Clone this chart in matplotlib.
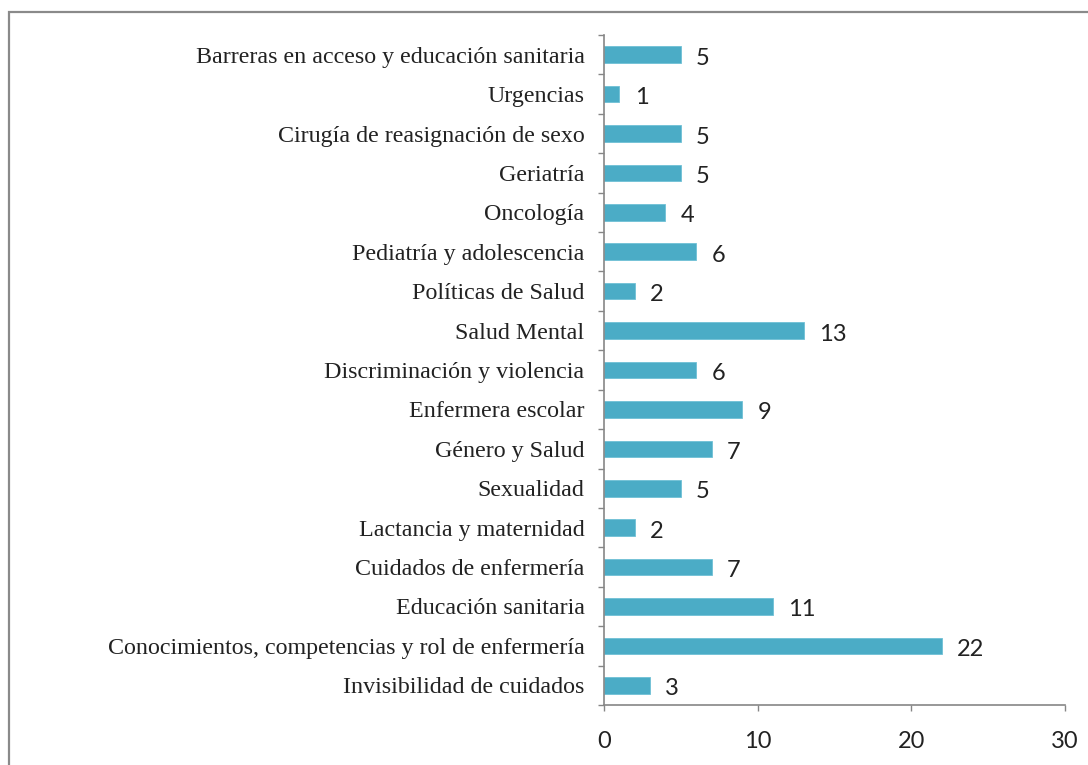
import matplotlib
matplotlib.use("Agg")
import matplotlib.pyplot as plt
from matplotlib.patches import Rectangle

categories = [
    "Barreras en acceso y educación sanitaria",
    "Urgencias",
    "Cirugía de reasignación de sexo",
    "Geriatría",
    "Oncología",
    "Pediatría y adolescencia",
    "Políticas de Salud",
    "Salud Mental",
    "Discriminación y violencia",
    "Enfermera escolar",
    "Género y Salud",
    "Sexualidad",
    "Lactancia y maternidad",
    "Cuidados de enfermería",
    "Educación sanitaria",
    "Conocimientos, competencias y rol de enfermería",
    "Invisibilidad de cuidados",
]
values = [5, 1, 5, 5, 4, 6, 2, 13, 6, 9, 7, 5, 2, 7, 11, 22, 3]
xticks = [0, 10, 20, 30]

W, H = 1088, 765
fig = plt.figure(figsize=(W / 100, H / 100), dpi=100)
fig.patch.set_facecolor("white")

# outer frame (right and bottom edges lie outside the image)
fig.patches.append(Rectangle((8.5 / W, -0.1), 1.2, 1.1 - 12.5 / H,
                             transform=fig.transFigure, fill=False,
                             edgecolor="#8a8a8a", linewidth=1.6, zorder=0))

ax = fig.add_axes([604 / W, 1 - 705 / H, (1065 - 604) / W, (705 - 35) / H])
n = len(categories)
ypos = list(range(n))
ax.barh(ypos, values, height=0.42, color="#4BACC6", edgecolor="#6fc0d6",
        linewidth=0.6, zorder=2)
ax.set_ylim(n - 0.5, -0.5)
ax.set_xlim(0, 30)

ax.set_xticks(xticks)
ax.set_xticklabels([str(t) for t in xticks], family="Lato", fontsize=17,
                   color="#222222")
ax.set_yticks([i - 0.5 for i in range(n + 1)])
ax.set_yticklabels([])
ax.set_yticks(ypos, minor=True)
ax.set_yticklabels(categories, minor=True, family="Liberation Serif",
                   fontsize=17.3, color="#222222")
ax.tick_params(axis="y", which="minor", length=0, pad=14)
ax.tick_params(axis="y", which="major", length=4.5, width=1, color="#868686",
               direction="out")
ax.tick_params(axis="x", length=4.5, width=1, color="#868686",
               direction="out", pad=14)

for s in ["top", "right"]:
    ax.spines[s].set_visible(False)
for s in ["left", "bottom"]:
    ax.spines[s].set_color("#868686")
    ax.spines[s].set_linewidth(1.2)

for y, v in zip(ypos, values):
    ax.annotate(str(v), (v, y), xytext=(11, -2.5), textcoords="offset points",
                va="center", ha="left", family="Lato", fontsize=17,
                color="#222222")

fig.savefig("out.png", dpi=100, facecolor="white")
